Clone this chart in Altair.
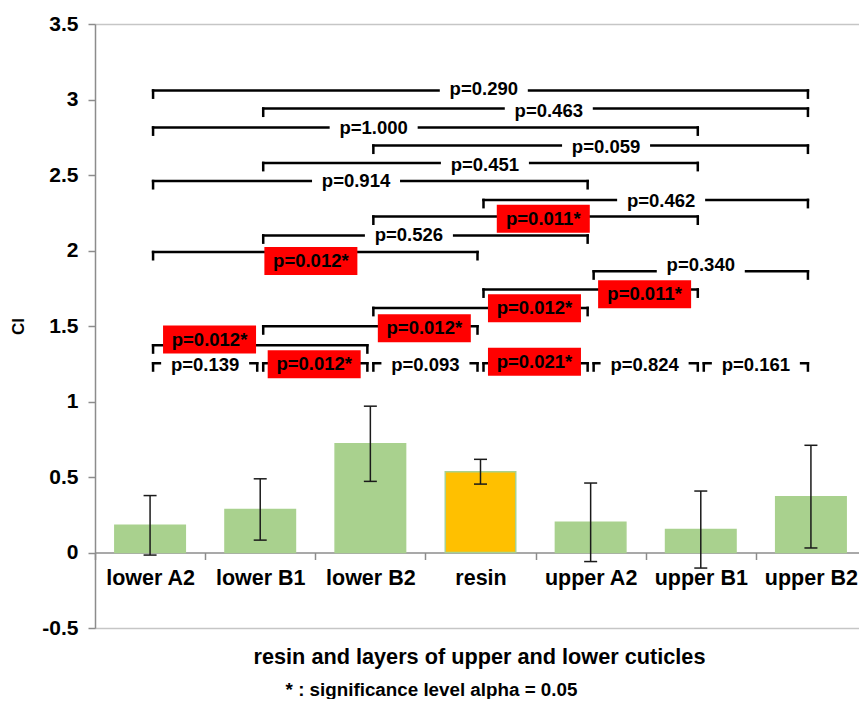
import altair as alt
import pandas as pd

# ---------------- data ----------------
categories = ["lower A2", "lower B1", "lower B2", "resin", "upper A2", "upper B1", "upper B2"]
ci_means = [0.18, 0.285, 0.72, 0.535, 0.20, 0.152, 0.37]
ci_errors = [0.197, 0.203, 0.249, 0.082, 0.26, 0.255, 0.34]
bar_colors = ["#A9D18E", "#A9D18E", "#A9D18E", "#FFC000", "#A9D18E", "#A9D18E", "#A9D18E"]

# pairwise comparison brackets (category indices), bracket height, label and label position
br_start = [0, 1, 0, 2, 1, 0, 3, 2, 1, 0, 4, 3, 2, 1, 0, 0, 1, 2, 3, 4, 5]
br_end = [6, 6, 5, 6, 5, 4, 6, 5, 4, 3, 6, 5, 4, 3, 2, 1, 2, 3, 4, 5, 6]
br_level = [3.06, 2.94, 2.815, 2.695, 2.58, 2.46, 2.335, 2.225, 2.10, 1.99, 1.862,
            1.742, 1.62, 1.498, 1.372, 1.253, 1.253, 1.253, 1.253, 1.253, 1.253]
p_labels = ["p=0.290", "p=0.463", "p=1.000", "p=0.059", "p=0.451", "p=0.914", "p=0.462",
            "p=0.011*", "p=0.526", "p=0.012*", "p=0.340", "p=0.011*", "p=0.012*", "p=0.012*",
            "p=0.012*", "p=0.139", "p=0.012*", "p=0.093", "p=0.021*", "p=0.824", "p=0.161"]
label_x = [3.03, 3.62, 2.03, 4.14, 3.04, 1.87, 4.64, 3.57, 2.35, 1.46, 5.0,
           4.49, 3.49, 2.49, 0.54, 0.50, 1.49, 2.50, 3.49, 4.49, 5.50]
label_y = [3.07, 2.925, 2.81, 2.685, 2.565, 2.46, 2.325, 2.21, 2.10, 1.93, 1.905,
           1.71, 1.617, 1.485, 1.41, 1.24, 1.246, 1.24, 1.263, 1.24, 1.24]
significant = [False, False, False, False, False, False, False, True, False, True, False,
               True, True, True, True, False, True, False, True, False, False]

x_title = "resin and layers of upper and lower cuticles"
y_title = "CI"
note = "* : significance level  alpha = 0.05"
y_ticks = [-0.5, 0, 0.5, 1, 1.5, 2, 2.5, 3, 3.5]

# ---------------- tables ----------------
bars = pd.DataFrame({
    "cat": categories,
    "idx": list(range(len(categories))),
    "mean": ci_means,
    "err": ci_errors,
})
bars["lo"] = bars["mean"] - bars["err"]
bars["hi"] = bars["mean"] + bars["err"]
bars["zero"] = 0.0

TICK = 0.048
brk = pd.DataFrame({
    "start": br_start, "end": br_end, "level": br_level,
    "label": p_labels, "lx": label_x, "ly": label_y, "sig": significant,
})
brk["tick_end"] = brk["level"] - TICK

FONT = "Liberation Sans"
W, H = 764, 604          # visible plot area (runs to the page edge)
XR = 771                 # category axis continues slightly past the visible edge
ZERO_Y = H * 3.5 / 4.0   # pixel row of value 0 inside the plot

yscale = alt.Scale(domain=[-0.5, 3.5], nice=False, zero=False)
xlin = alt.Scale(domain=[-0.5, 6.5], nice=False, zero=False, range=[0, XR])

grid_cond = {"condition": {"test": "datum.value == 3.5 || datum.value == -0.5", "value": 1}, "value": 0}

yaxis = alt.Axis(
    values=y_ticks, labelExpr="toString(datum.value)",
    labelFont=FONT, labelFontWeight="bold", labelFontSize=21, labelColor="black",
    labelPadding=10, tickSize=7, tickColor="#8c8c8c", tickWidth=1.5,
    domainColor="#8c8c8c", domainWidth=1.5,
    grid=True, gridColor="#c6c6c6", gridWidth=1.5, gridOpacity=grid_cond,
    title=y_title, titleFont=FONT, titleFontWeight="bold", titleFontSize=17,
    titleColor="black", titleAngle=270, titleX=-77, titleY=H / 2,
    titleBaseline="middle", titleAlign="center",
)

xaxis = alt.Axis(
    labelAngle=0, labelFont=FONT, labelFontWeight="bold", labelFontSize=21.5,
    labelColor="black", labelPadding=8, labelOverlap=False,
    tickBand="extent", tickSize=7, tickColor="#8c8c8c", tickWidth=1.5,
    domainColor="#8c8c8c", domainWidth=1.5, grid=False,
    offset=-(H - ZERO_Y),
    title=x_title, titleFont=FONT, titleFontWeight="bold", titleFontSize=21.7,
    titleColor="black", titleX=384, titleY=103.5, titleBaseline="middle", titleAlign="center",
)

bar_layer = alt.Chart(bars).mark_bar(
    width={"band": 0.64}, stroke="#A9D18E", strokeWidth=1.5
).encode(
    x=alt.X("cat:N", sort=categories,
            scale=alt.Scale(domain=categories, paddingInner=0, paddingOuter=0, range=[0, XR]),
            axis=xaxis),
    y=alt.Y("mean:Q", scale=yscale, axis=yaxis),
    y2="zero:Q",
    color=alt.Color("cat:N", scale=alt.Scale(domain=categories, range=bar_colors), legend=None),
)

xq = alt.X("idx:Q", scale=xlin, axis=None)
err_rule = alt.Chart(bars).mark_rule(color="#1a1a1a", strokeWidth=1.5).encode(
    x=xq, y=alt.Y("lo:Q", scale=yscale), y2="hi:Q")
cap_lo = alt.Chart(bars).mark_tick(orient="horizontal", size=13, thickness=1.5,
                                   color="#1a1a1a", opacity=1).encode(
    x=xq, y=alt.Y("lo:Q", scale=yscale))
cap_hi = alt.Chart(bars).mark_tick(orient="horizontal", size=13, thickness=1.5,
                                   color="#1a1a1a", opacity=1).encode(
    x=xq, y=alt.Y("hi:Q", scale=yscale))

LW = 2.5
br_line = alt.Chart(brk).mark_rule(color="black", strokeWidth=LW, strokeCap="square",
                                   xOffset=3, x2Offset=-3).encode(
    x=alt.X("start:Q", scale=xlin, axis=None), x2="end:Q", y=alt.Y("level:Q", scale=yscale))
br_left = alt.Chart(brk).mark_rule(color="black", strokeWidth=LW, strokeCap="square",
                                   xOffset=3).encode(
    x=alt.X("start:Q", scale=xlin, axis=None), y=alt.Y("level:Q", scale=yscale), y2="tick_end:Q")
br_right = alt.Chart(brk).mark_rule(color="black", strokeWidth=LW, strokeCap="square",
                                    xOffset=-3).encode(
    x=alt.X("end:Q", scale=xlin, axis=None), y=alt.Y("level:Q", scale=yscale), y2="tick_end:Q")

def box_shape(w, h):
    r = h / w
    return f"M-1,-{r:.4f}H1V{r:.4f}H-1Z"

white_box = alt.Chart(brk).transform_filter("!datum.sig").mark_point(
    shape=box_shape(88, 20), size=88 * 88, filled=True, fill="white", strokeWidth=0, opacity=1
).encode(x=alt.X("lx:Q", scale=xlin, axis=None), y=alt.Y("ly:Q", scale=yscale))
red_box = alt.Chart(brk).transform_filter("datum.sig").mark_point(
    shape=box_shape(93, 28), size=93 * 93, filled=True, fill="#FF0000", strokeWidth=0, opacity=1
).encode(x=alt.X("lx:Q", scale=xlin, axis=None), y=alt.Y("ly:Q", scale=yscale))

p_text = alt.Chart(brk).mark_text(
    font=FONT, fontWeight="bold", fontSize=18.5, color="black", align="center", baseline="middle"
).encode(x=alt.X("lx:Q", scale=xlin, axis=None), y=alt.Y("ly:Q", scale=yscale), text="label:N")

note_text = alt.Chart(pd.DataFrame({"t": [note]})).mark_text(
    font=FONT, fontWeight="bold", fontSize=18.8, color="black", align="center", baseline="middle"
).encode(text="t:N", x=alt.value(336.5), y=alt.value(666))

overlay = alt.layer(err_rule, cap_lo, cap_hi, br_line, br_left, br_right,
                    white_box, red_box, p_text, note_text)

chart = alt.layer(bar_layer, overlay).resolve_scale(x="independent").properties(
    width=W, height=H,
    autosize=alt.AutoSizeParams(type="none"),
    padding={"left": 87, "top": 16, "right": 0, "bottom": 71},
).configure_view(stroke=None).configure(background="white")

chart.save("out.html", embed_options={"renderer": "svg", "actions": False})
